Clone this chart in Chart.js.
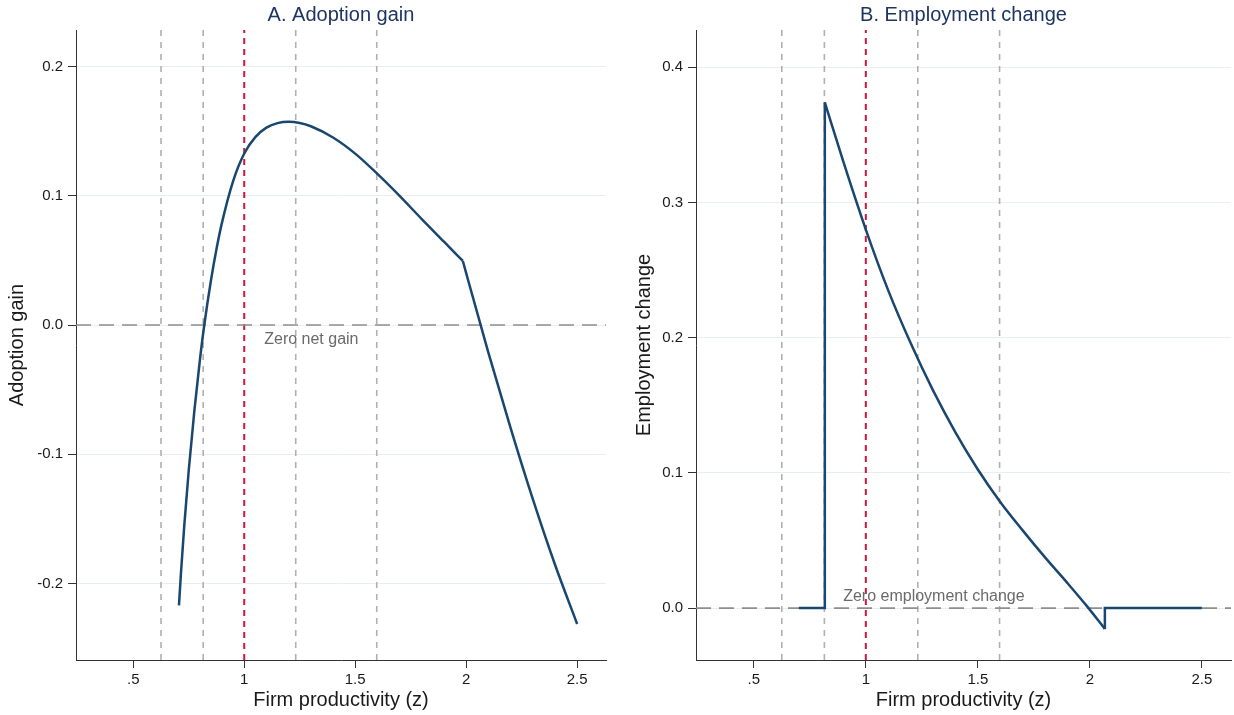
<!DOCTYPE html>
<html>
<head>
<meta charset="utf-8">
<script src="https://cdn.jsdelivr.net/npm/chart.js@4.4.1/dist/chart.umd.min.js"></script>
<style>
  html, body { margin: 0; padding: 0; background: #fff; overflow: hidden; }
  #wrap { position: relative; width: 1234px; height: 715px; }
  canvas { position: absolute; top: 0; }
</style>
</head>
<body>
<div id="wrap">
  <canvas id="gainChart" width="617" height="715" style="left:0"></canvas>
  <canvas id="empChart" width="617" height="715" style="left:617px"></canvas>
</div>
<script>
// adoption gain by firm productivity z (kink where the constraint binds)
const gainZ = [0.706, 0.715, 0.73, 0.75, 0.775, 0.80, 0.82, 0.85, 0.875, 0.90, 0.95, 1.0, 1.05, 1.1, 1.15,
  1.2, 1.25, 1.3, 1.4, 1.5, 1.6, 1.7, 1.8, 1.9, 1.985,
  2.0, 2.1, 2.2, 2.3, 2.4, 2.5];
const gainVal = [-0.217, -0.1917, -0.1549, -0.1124, -0.0668, -0.0274, 0.0, 0.0345, 0.0589, 0.0795, 0.1115, 0.1328, 0.1455, 0.1528, 0.1563,
  0.1573, 0.1564, 0.1539, 0.1452, 0.1327, 0.117, 0.100, 0.082, 0.0645, 0.0496,
  0.0402, -0.0213, -0.0796, -0.1346, -0.1854, -0.2314];
const gainBreaks = [24];

// employment change: zero for non-adopters, jump at the adoption threshold
const empZ = [0.701, 0.817, 0.817, 0.90, 1.0, 1.1, 1.2, 1.3, 1.4, 1.5, 1.6, 1.7, 1.8, 1.9, 1.985, 2.067, 2.067, 2.5];
const empVal = [0.0, 0.0, 0.374, 0.330, 0.280, 0.235, 0.196, 0.161, 0.130, 0.1025, 0.0785, 0.0575, 0.0375, 0.0185, 0.0018, -0.0154, 0.0, 0.0];
const empBreaks = [2, 15];

// productivity quantiles (grey) and the mean (red)
const cutoffs = [0.625, 0.815, 1.232, 1.597];
const meanZ = 1;

const xTicks = [0.5, 1, 1.5, 2, 2.5];
const xTickLabels = ['.5', '1', '1.5', '2', '2.5'];
const gainTicks = [-0.2, -0.1, 0, 0.1, 0.2];
const gainTickLabels = ['-0.2', '-0.1', '0.0', '0.1', '0.2'];
const empTicks = [0, 0.1, 0.2, 0.3, 0.4];
const empTickLabels = ['0.0', '0.1', '0.2', '0.3', '0.4'];

const FONT = '"Liberation Sans", Arial, Helvetica, sans-serif';
const NAVY = '#1a476f';
const X_MIN = 0.242, X_MAX = 2.63;

// cut a series into pieces at the break indices (kinks / jumps)
function pieces(zs, vs, breaks) {
  const out = [];
  const idx = [0, ...breaks, zs.length - 1];
  for (let k = 0; k < idx.length - 1; k++) {
    const pts = [];
    for (let i = idx[k]; i <= idx[k + 1]; i++) pts.push({ x: zs[i], y: vs[i] });
    out.push(pts);
  }
  return out;
}

function curveSets(zs, vs, breaks) {
  return pieces(zs, vs, breaks).map(pts => {
    const uniqueX = new Set(pts.map(p => p.x)).size === pts.length;
    const smooth = pts.length > 3 && uniqueX;
    return {
      data: pts,
      borderColor: NAVY,
      borderWidth: 2.5,
      pointRadius: 0,
      cubicInterpolationMode: smooth ? 'monotone' : 'default',
      tension: 0,
      borderJoinStyle: 'miter'
    };
  });
}

function refLines(yMin, yMax) {
  const sets = [];
  sets.push({
    data: [{ x: X_MIN, y: 0 }, { x: X_MAX, y: 0 }],
    borderColor: '#8e8e8e', borderWidth: 1.6, borderDash: [15, 8], pointRadius: 0
  });
  sets.push({
    data: [{ x: meanZ, y: yMin }, { x: meanZ, y: yMax }],
    borderColor: '#d0163f', borderWidth: 2, borderDash: [6, 5], pointRadius: 0
  });
  cutoffs.forEach(c => sets.push({
    data: [{ x: c, y: yMin }, { x: c, y: yMax }],
    borderColor: '#b0b0b0', borderWidth: 1.6, borderDash: [6, 6], pointRadius: 0
  }));
  return sets;
}

// panel title over the plot area and the note under the zero line
const panelText = {
  id: 'panelText',
  afterDraw(chart, args, opts) {
    const { ctx, chartArea, scales: { x, y } } = chart;
    ctx.save();
    ctx.font = '20px ' + FONT;
    ctx.fillStyle = '#1e3461';
    ctx.textAlign = 'center';
    ctx.textBaseline = 'middle';
    ctx.fillText(opts.title, (chartArea.left + chartArea.right) / 2, 15);
    ctx.font = '16px ' + FONT;
    ctx.fillStyle = '#6a6a6a';
    ctx.textAlign = 'left';
    ctx.fillText(opts.note, x.getPixelForValue(opts.noteAt[0]), y.getPixelForValue(opts.noteAt[1]));
    ctx.restore();
  }
};

function makeChart(id, cfg) {
  const datasets = [...curveSets(cfg.zs, cfg.vs, cfg.breaks), ...refLines(cfg.yMin, cfg.yMax)];
  return new Chart(document.getElementById(id), {
    type: 'line',
    data: { datasets },
    plugins: [panelText],
    options: {
      responsive: false,
      animation: false,
      layout: { padding: { top: 30, right: cfg.padRight, bottom: 0, left: 0 } },
      plugins: {
        legend: { display: false },
        tooltip: { enabled: false },
        panelText: { title: cfg.title, note: cfg.note, noteAt: cfg.noteAt }
      },
      scales: {
        x: {
          type: 'linear', min: X_MIN, max: X_MAX,
          afterBuildTicks: s => { s.ticks = xTicks.map(v => ({ value: v })); },
          afterFit: s => { s.height = 55; },
          ticks: {
            callback: v => xTickLabels[xTicks.indexOf(v)],
            font: { family: FONT, size: 15 }, color: '#1a1a1a', padding: 3, maxRotation: 0
          },
          grid: { drawOnChartArea: false, tickLength: 8, tickColor: '#333', tickWidth: 1 },
          border: { color: '#333', width: 1 },
          title: {
            display: true, text: 'Firm productivity (z)',
            font: { family: FONT, size: 20 }, color: '#1a1a1a', padding: { top: 0, bottom: 3 }
          }
        },
        y: {
          type: 'linear', min: cfg.yMin, max: cfg.yMax,
          afterBuildTicks: s => { s.ticks = cfg.yTicks.map(v => ({ value: v })); },
          afterFit: s => { s.width = cfg.yWidth; },
          ticks: {
            callback: v => cfg.yLabels[cfg.yTicks.indexOf(v)],
            font: { family: FONT, size: 15 }, color: '#1a1a1a', padding: 5
          },
          grid: { color: '#e8eef1', lineWidth: 1, tickLength: 8, tickColor: '#333', tickWidth: 1 },
          border: { color: '#333', width: 1 },
          title: {
            display: true, text: cfg.yTitle,
            font: { family: FONT, size: 20 }, color: '#1a1a1a', padding: { top: cfg.yTitlePad, bottom: 0 }
          }
        }
      }
    }
  });
}

makeChart('gainChart', {
  zs: gainZ, vs: gainVal, breaks: gainBreaks,
  yMin: -0.2593, yMax: 0.2284, yTicks: gainTicks, yLabels: gainTickLabels,
  yWidth: 76, padRight: 11, yTitle: 'Adoption gain', yTitlePad: 5,
  title: 'A. Adoption gain',
  note: 'Zero net gain', noteAt: [1.09, -0.0116]
});

makeChart('empChart', {
  zs: empZ, vs: empVal, breaks: empBreaks,
  yMin: -0.0384, yMax: 0.4276, yTicks: empTicks, yLabels: empTickLabels,
  yWidth: 79, padRight: 3, yTitle: 'Employment change', yTitlePad: 15,
  title: 'B. Employment change',
  note: 'Zero employment change', noteAt: [0.899, 0.0087]
});
</script>
</body>
</html>
